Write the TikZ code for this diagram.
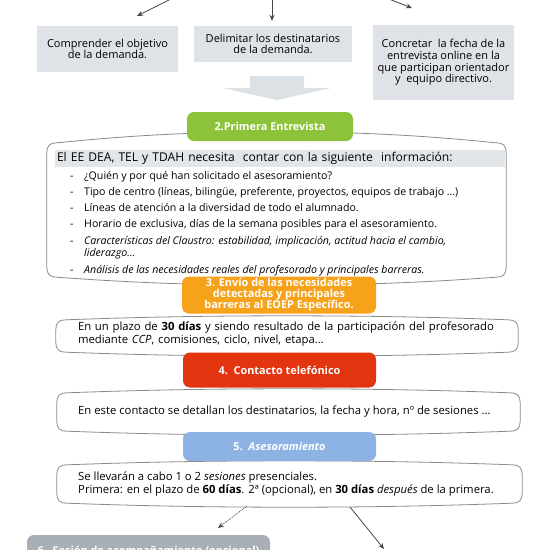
\documentclass[tikz,border=0pt]{standalone}
\usepackage{fontspec}
\setmainfont{Open Sans}
\usetikzlibrary{arrows.meta,calc,positioning}

\definecolor{boxgray}{HTML}{DFE3E7}
\definecolor{stripgray}{HTML}{E3E6E9}
\definecolor{arrowgray}{HTML}{DCE1E5}
\definecolor{greenhd}{HTML}{8DC33B}
\definecolor{orangehd}{HTML}{F6A21B}
\definecolor{redhd}{HTML}{E2340E}
\definecolor{bluehd}{HTML}{8DB3E4}
\definecolor{grayhd}{HTML}{A8AFB7}
\definecolor{frameclr}{HTML}{8A8A8A}
\definecolor{arrowclr}{HTML}{454545}

% frame with bulging top and bottom round a node
\newcommand{\bulgeframe}[3]{%
  \draw[frameline]
    ($(#1.north west)+(0,10)$) .. controls ($(#1.north west)+(0,3)$) and ($(#1.north west)+(3,0)$) .. ($(#1.north west)+(10,0)$)
    .. controls ($(#1.north west)+(50,-#2*0.35)$) and ($(#1.north)+(-110,-#2)$) .. ($(#1.north)+(0,-#2)$)
    .. controls ($(#1.north)+(110,-#2)$) and ($(#1.north east)+(-50,-#2*0.35)$) .. ($(#1.north east)+(-10,0)$)
    .. controls ($(#1.north east)+(-3,0)$) and ($(#1.north east)+(0,3)$) .. ($(#1.north east)+(0,10)$)
    -- ($(#1.south east)+(0,-10)$)
    .. controls ($(#1.south east)+(0,-3)$) and ($(#1.south east)+(-3,0)$) .. ($(#1.south east)+(-10,0)$)
    .. controls ($(#1.south east)+(-50,#3*0.35)$) and ($(#1.south)+(110,#3)$) .. ($(#1.south)+(0,#3)$)
    .. controls ($(#1.south)+(-110,#3)$) and ($(#1.south west)+(50,#3*0.35)$) .. ($(#1.south west)+(10,0)$)
    .. controls ($(#1.south west)+(3,0)$) and ($(#1.south west)+(0,-3)$) .. ($(#1.south west)+(0,-10)$) -- cycle;}

\begin{document}
\begin{tikzpicture}[x=1pt,y=-1pt,>={Stealth[length=6pt,width=5pt]},
  font=\fontsize{11}{11.7}\selectfont,
  topbox/.style={fill=boxgray,align=center,inner sep=0pt},
  head/.style={rounded corners=7pt,align=center,text=white,inner sep=0pt,
    font=\fontsize{10.9}{11}\selectfont\bfseries},
  framebox/.style={minimum width=#1,inner sep=0pt},
  frameline/.style={draw=frameclr,line width=0.8pt,fill=white},
  body/.style={inner sep=0pt,font=\fontsize{11.3}{13.5}\selectfont},
  link/.style={->,draw=arrowclr,line width=0.8pt}]
  \useasboundingbox (0,0) rectangle (550,550);
  \clip (0,0) rectangle (550,550);

  % top row
  \node[topbox,minimum width=141pt,minimum height=46pt] (obj) at (107.5,49) {Comprender el objetivo\\de la demanda.};
  \node[topbox,minimum width=158pt,minimum height=36pt] (dest) at (273,44) {Delimitar los destinatarios\\de la demanda.};
  \node[topbox,minimum width=141pt,minimum height=75pt] (fecha) at (443.5,62.5)
    {Concretar\ \ la fecha de la\\entrevista online en la\\que participan orientador\\y\ \ equipo directivo.};
  \coordinate (inL) at (171,-1);
  \coordinate (tipL) at (137,16);
  \coordinate (inM) at (272,-1);
  \coordinate (inR) at (389,-1);
  \coordinate (tipR) at (412,8);
  \draw[link] (inL) -- (tipL);
  \draw[link,shorten >=5pt] (inM) -- (dest.north -| inM);
  \draw[link] (inR) -- (tipR);
  \fill[arrowgray] (250,76) -- (304,76) -- (304,88) -- (331,88) -- (277,100) -- (223,88) -- (250,88) -- cycle;

  % 2
  \node[framebox=459pt,minimum height=134pt] (c1) at (276.5,210) {};
  \bulgeframe{c1}{11}{8}
  \node[fill=stripgray,minimum width=450pt,minimum height=17pt,inner xsep=2pt,inner ysep=0pt,
    text width=446pt,align=left,font=\fontsize{12.1}{13}\selectfont] (need) at (280,158)
    {El EE DEA, TEL y TDAH necesita\ \ contar con la siguiente\ \ información:};
  \node[anchor=north west,align=left,inner sep=0pt,font=\fontsize{10.6}{12.8}\selectfont] (info) at (70,171)
    {\makebox[14pt][l]{-}¿Quién y por qué han solicitado el asesoramiento?\\[3.4pt]
     \makebox[14pt][l]{-}Tipo de centro (líneas, bilingüe, preferente, proyectos, equipos de trabajo …)\\[3.4pt]
     \makebox[14pt][l]{-}Líneas de atención a la diversidad de todo el alumnado.\\[3.4pt]
     \makebox[14pt][l]{-}Horario de exclusiva, días de la semana posibles para el asesoramiento.\\[3.4pt]
     \makebox[14pt][l]{-}\textit{Características del Claustro: estabilidad, implicación, actitud hacia el cambio,}\\
     \hspace*{14pt}\textit{liderazgo…}\\[3.4pt]
     \makebox[14pt][l]{-}\textit{Análisis de las necesidades reales del profesorado y principales barreras.}};
  \node[head,fill=greenhd,minimum width=166pt,minimum height=29pt] (prim) at (270,126.5) {2.Primera Entrevista};

  % 3
  \node[framebox=462pt,minimum height=32pt] (c2) at (287,336) {};
  \bulgeframe{c2}{4}{4}
  \node[body,text width=432pt,align=left] (plazo) at (294,334)
    {\makebox[\linewidth][s]{En un plazo de \textbf{30 días} y siendo resultado de la participación del profesorado}\\
     mediante \textit{CCP}, comisiones, ciclo, nivel, etapa…};
  \node[head,fill=orangehd,minimum width=194pt,minimum height=37pt] (envio) at (279,295)
    {3. Envío de las necesidades\\detectadas y principales\\barreras al EOEP Específico.};

  % 4
  \node[framebox=463pt,minimum height=38pt] (c3) at (288.5,412) {};
  \bulgeframe{c3}{4}{4}
  \node[body,anchor=west] (detalle) at (78,412)
    {En este contacto se detallan los destinatarios, la fecha y hora, nº de sesiones …};
  \node[head,fill=redhd,minimum width=193pt,minimum height=35pt] (tel) at (279.5,370) {4.\ \ Contacto telefónico};

  % 5
  \node[framebox=465pt,minimum height=38pt] (c4) at (289.5,484) {};
  \bulgeframe{c4}{4}{4}
  \node[body,anchor=west,align=left] (sesion) at (78,484)
    {Se llevarán a cabo 1 o 2 \textit{sesiones} presenciales.\\
     Primera: en el plazo de \textbf{60 días}. 2ª (opcional), en \textbf{30 días} \textit{después} de la primera.};
  \node[head,fill=bluehd,minimum width=193pt,minimum height=29pt] (ases) at (279.5,446.5) {5.\ \ \textit{Asesoramiento}};

  % 6
  \node[head,fill=grayhd,minimum width=243pt,minimum height=34pt] (acomp) at (148.5,552)
    {6.\ \ Sesión de acompañamiento (opcional)};
  \coordinate (dotS) at (247,506);
  \coordinate (dotE) at (218,528);
  \coordinate (outS) at (350,507);
  \coordinate (outE) at (384,549);
  \draw[link,densely dotted] (dotS) -- (dotE);
  \draw[link] (outS) -- (outE);
\end{tikzpicture}
\end{document}
